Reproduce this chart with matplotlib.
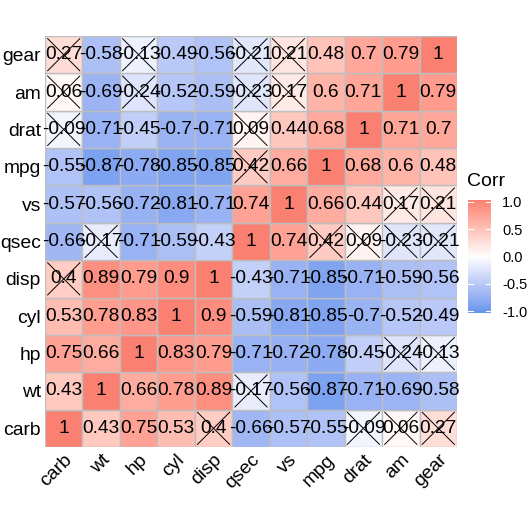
import numpy as np
import matplotlib
matplotlib.use("Agg")
import matplotlib.pyplot as plt
from matplotlib.colors import ListedColormap, Normalize

plt.rcParams['font.family'] = ['Liberation Sans', 'DejaVu Sans']

variables = ["carb", "wt", "hp", "cyl", "disp", "qsec", "vs", "mpg", "drat", "am", "gear"]

corr_rows = [
    [1, 0.43, 0.75, 0.53, 0.4, -0.66, -0.57, -0.55, -0.09, 0.06, 0.27],      # carb
    [0.43, 1, 0.66, 0.78, 0.89, -0.17, -0.56, -0.87, -0.71, -0.69, -0.58],   # wt
    [0.75, 0.66, 1, 0.83, 0.79, -0.71, -0.72, -0.78, -0.45, -0.24, -0.13],   # hp
    [0.53, 0.78, 0.83, 1, 0.9, -0.59, -0.81, -0.85, -0.7, -0.52, -0.49],     # cyl
    [0.4, 0.89, 0.79, 0.9, 1, -0.43, -0.71, -0.85, -0.71, -0.59, -0.56],     # disp
    [-0.66, -0.17, -0.71, -0.59, -0.43, 1, 0.74, 0.42, 0.09, -0.23, -0.21],  # qsec
    [-0.57, -0.56, -0.72, -0.81, -0.71, 0.74, 1, 0.66, 0.44, 0.17, 0.21],    # vs
    [-0.55, -0.87, -0.78, -0.85, -0.85, 0.42, 0.66, 1, 0.68, 0.6, 0.48],     # mpg
    [-0.09, -0.71, -0.45, -0.7, -0.71, 0.09, 0.44, 0.68, 1, 0.71, 0.7],      # drat
    [0.06, -0.69, -0.24, -0.52, -0.59, -0.23, 0.17, 0.6, 0.71, 1, 0.79],     # am
    [0.27, -0.58, -0.13, -0.49, -0.56, -0.21, 0.21, 0.48, 0.7, 0.79, 1],     # gear
]

insignificant_pairs = [
    ("gear", "carb"), ("gear", "hp"), ("gear", "qsec"), ("gear", "vs"),
    ("am", "carb"), ("am", "hp"), ("am", "qsec"), ("am", "vs"),
    ("drat", "carb"), ("drat", "qsec"), ("mpg", "qsec"), ("wt", "qsec"),
    ("disp", "carb"),
]

legend_ticks = [-1.0, -0.5, 0.0, 0.5, 1.0]

# ---- colour scale: gradient2 in CIELAB (cornflowerblue - white - salmon)
def srgb_to_lab(rgb):
    rgb = np.asarray(rgb, float)
    lin = np.where(rgb <= 0.04045, rgb / 12.92, ((rgb + 0.055) / 1.055) ** 2.4)
    M = np.array([[0.4124, 0.3576, 0.1805], [0.2126, 0.7152, 0.0722], [0.0193, 0.1192, 0.9505]])
    xyz = M @ lin
    wp = np.array([0.95047, 1.0, 1.08883])
    t = xyz / wp
    f = np.where(t > (6 / 29) ** 3, np.cbrt(t), t / (3 * (6 / 29) ** 2) + 4 / 29)
    return np.array([116 * f[1] - 16, 500 * (f[0] - f[1]), 200 * (f[1] - f[2])])

def lab_to_srgb(lab):
    L, a, b = lab
    fy = (L + 16) / 116
    fx = fy + a / 500
    fz = fy - b / 200
    def finv(t):
        return np.where(t > 6 / 29, t ** 3, 3 * (6 / 29) ** 2 * (t - 4 / 29))
    wp = np.array([0.95047, 1.0, 1.08883])
    xyz = np.array([finv(fx), finv(fy), finv(fz)]) * wp
    Minv = np.array([[3.2406, -1.5372, -0.4986], [-0.9689, 1.8758, 0.0415], [0.0557, -0.2040, 1.0570]])
    lin = Minv @ xyz
    lin = np.clip(lin, 0, 1)
    rgb = np.where(lin <= 0.0031308, 12.92 * lin, 1.055 * lin ** (1 / 2.4) - 0.055)
    return np.clip(rgb, 0, 1)

low = np.array([100, 149, 237]) / 255
mid = np.array([1.0, 1.0, 1.0])
high = np.array([250, 128, 114]) / 255
lab_low, lab_mid, lab_high = srgb_to_lab(low), srgb_to_lab(mid), srgb_to_lab(high)

def colour(v):
    if v < 0:
        lab = lab_mid + (lab_low - lab_mid) * (-v)
    else:
        lab = lab_mid + (lab_high - lab_mid) * v
    return lab_to_srgb(lab)

cmap = ListedColormap([colour(v) for v in np.linspace(-1, 1, 301)])

W = H = 528
fig = plt.figure(figsize=(W / 100, H / 100), dpi=100)
ax = fig.add_axes([45 / W, (H - 447) / H, 412 / W, 411 / H])

n = len(variables)
corr = np.array(corr_rows, float)
ins = np.zeros((n, n), bool)
for a, b in insignificant_pairs:
    i, j = variables.index(a), variables.index(b)
    ins[i, j] = ins[j, i] = True

for i in range(n):          # row -> y
    for j in range(n):      # col -> x
        v = corr[i, j]
        ax.add_patch(plt.Rectangle((j - 0.5, i - 0.5), 1, 1, facecolor=colour(v),
                                   edgecolor="#BEBEBE", linewidth=1.0))
        if ins[i, j]:
            d = 0.43
            ax.plot([j - d, j + d], [i - d, i + d], color="black", lw=0.7)
            ax.plot([j - d, j + d], [i + d, i - d], color="black", lw=0.7)
        ax.text(j, i, f"{round(v, 2):g}", ha="center", va="center",
                fontsize=13.8, color="black")

ax.set_xlim(-0.5, n - 0.5)
ax.set_ylim(-0.5, n - 0.5)
ax.set_xticks(range(n))
ax.set_yticks(range(n))
ax.set_xticklabels(variables, rotation=45, ha="right", va="top",
                   rotation_mode="anchor", fontsize=13.9)
ax.set_yticklabels(variables, fontsize=13.9)
ax.tick_params(length=0, pad=3)
for s in ax.spines.values():
    s.set_visible(False)

# ---- legend colourbar
cax = fig.add_axes([468 / W, (H - 313) / H, 23 / W, 113 / H])
grad = np.linspace(-1, 1, 300).reshape(-1, 1)
cax.imshow(grad, aspect="auto", cmap=cmap, origin="lower", extent=[0, 1, -1.03, 1.03],
           norm=Normalize(-1, 1))
cax.set_xlim(0, 1)
cax.set_ylim(-1.03, 1.03)
cax.set_xticks([])
cax.set_yticks(legend_ticks)
cax.set_yticklabels([f"{t:.1f}" for t in legend_ticks], fontsize=10.5)
cax.yaxis.tick_right()
cax.tick_params(axis="y", length=0, pad=8)
for s in cax.spines.values():
    s.set_visible(False)
for t in legend_ticks:
    cax.plot([0, 0.2], [t, t], color="white", lw=0.8)
    cax.plot([0.8, 1], [t, t], color="white", lw=0.8)
fig.text(467 / W, (H - 182) / H, "Corr", fontsize=14, ha="left", va="center")

fig.savefig("out.png", dpi=100, facecolor="white")
